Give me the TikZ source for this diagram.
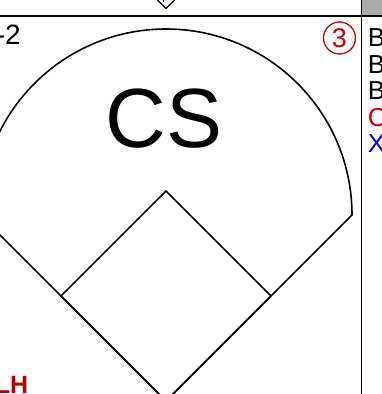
\documentclass[tikz,border=0pt]{standalone}
\usepackage{fontspec}
\setmainfont{Liberation Sans}
\usetikzlibrary{positioning}
\definecolor{markred}{RGB}{204,0,0}
\definecolor{lhred}{RGB}{185,0,0}
\definecolor{markblue}{RGB}{0,0,255}
\definecolor{hdrgray}{RGB}{170,170,170}

\begin{document}
\begin{tikzpicture}[x=1pt,y=1pt,line width=1.5pt,
  field/.style={line width=1.6pt,line join=miter},
  pitch/.style={font=\fontsize{26}{26}\selectfont,anchor=base west,inner sep=0pt}]
  \useasboundingbox (0,0) rectangle (382,394);
  % frame of the cell
  \fill[hdrgray] (362,378) rectangle (382,394);
  \draw (0,378) -- (382,378);
  \draw (361.5,0) -- (361.5,394);
  % bottom tip of the diamond above
  \draw[line width=1.2pt] (157,394.5) -- (166,385.5) -- (175,394.5);
  \fill[markblue] (163.5,393) circle (1);
  % field
  \coordinate (home) at (166,-7);
  \coordinate (first) at (271,98);
  \coordinate (second) at (166,203);
  \coordinate (third) at (61,98);
  \coordinate (rfoul) at (352,179);
  \draw[field] (home) -- (first) -- (second) -- (third) -- cycle;
  \draw[field] (home) -- (rfoul) arc[start angle=0,end angle=180,radius=186] -- cycle;
  % texts
  \node[font=\fontsize{84}{84}\selectfont,anchor=base,inner sep=0pt] (play) at (164,246) {CS};
  \node[font=\fontsize{28}{28}\selectfont,anchor=base west,inner sep=0pt] (count) at (-5,349) {-2};
  \node[draw=markred,circle,line width=1.3pt,minimum size=32,inner sep=0pt,text=markred,
    font=\fontsize{27}{27}\selectfont] (outs) at (339.5,356) {3};
  \node[pitch] (p1) at (367,347) {B};
  \node[pitch] (p2) at (367,320.5) {B};
  \node[pitch] (p3) at (367,294) {B};
  \node[pitch,text=markred] (p4) at (367,267.5) {C};
  \node[pitch,text=markblue] (p5) at (367,241) {X};
  \node[font=\fontsize{25}{25}\selectfont\bfseries,text=lhred,anchor=base west,inner sep=0pt] (hitter) at (-6,0.5) {LH};
\end{tikzpicture}
\end{document}
